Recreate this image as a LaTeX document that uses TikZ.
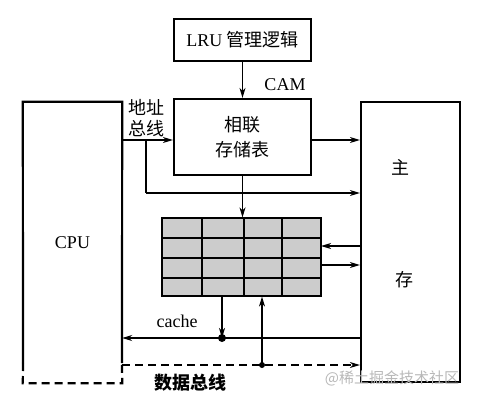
\documentclass[tikz,border=0pt]{standalone}
\usepackage{fontspec}
\setmainfont{Liberation Serif}
\newfontfamily\cjk{Noto Sans CJK SC}
\usetikzlibrary{arrows.meta, positioning, calc}
\definecolor{cellGray}{HTML}{CCCCCC}
\definecolor{markGray}{HTML}{B8B8B8}

\tikzset{
    unitbox/.style={draw, line width=2.2pt, inner sep=0pt},
    arr/.style={line width=1.2pt, -{Stealth[length=10pt, width=6pt, inset=3pt]}},
    lbl/.style={font=\fontsize{18}{21}\selectfont, inner sep=0pt},
    longdash/.style={dash pattern=on 8pt off 5pt},
    busdot/.style={fill, circle, inner sep=0pt, minimum size=8pt}
}

\begin{document}
\begin{tikzpicture}[x=1pt, y=-1pt]
    \useasboundingbox (0,0) rectangle (484,401);

    % boxes
    \node[unitbox, minimum width=137pt, minimum height=42pt, lbl] (lru) at (242.5,40) {LRU {\cjk 管理逻辑}};
    \node[unitbox, minimum width=137pt, minimum height=76pt, lbl, align=center] (cam) at (242.5,137) {\cjk 相联\\[4pt]\cjk 存储表};
    \node[minimum width=99pt, minimum height=281pt, inner sep=0pt] (cpu) at (72.5,242.5) {};
    \node[unitbox, minimum width=99pt, minimum height=280pt] (mem) at (410.5,242) {};

    % cpu outline, broken at the bottom
    \draw[line width=2.2pt] (23,363) -- (cpu.north west) -- (cpu.north east) -- (122,363);
    \draw[line width=2.2pt, longdash] (23,363) -- (cpu.south west) -- (cpu.south east) -- (122,363);

    % cache array
    \node[draw, line width=1.2pt, fill=cellGray, minimum width=159pt, minimum height=78pt, inner sep=0pt] (cache) at (241.5,257) {};
    \foreach \cx in {202,244,282}
        \draw[line width=1.2pt] (\cx,218) -- (\cx,296);
    \foreach \cy in {238,258,278}
        \draw[line width=1.2pt] (162,\cy) -- (321,\cy);

    % labels
    \node[lbl] (cpulbl) at (cpu) {CPU};
    \node[lbl] (camlbl) at (285,85) {CAM};
    \node[lbl, align=left] (addrlbl) at (146,118) {\cjk 地址\\\cjk 总线};
    \node[lbl] (cachelbl) at (177,321) {cache};
    \node[lbl, font=\fontsize{18}{21}\selectfont\cjk\bfseries] (datalbl) at (190,383) {数据总线};
    \node[lbl, font=\fontsize{18}{21}\selectfont\cjk] (zhu) at (400,167) {主};
    \node[lbl, font=\fontsize{18}{21}\selectfont\cjk] (cun) at (404,280) {存};
    \node[lbl, font=\fontsize{15}{18}\selectfont\cjk, text=markGray] (mark) at (392,378) {@稀土掘金技术社区};

    % address bus
    \coordinate (addr) at (122,140);
    \coordinate (br) at (146,140);
    \coordinate (low) at (146,193);
    \draw[arr] (addr) -- (addr -| cam.west);
    \draw[line width=1.2pt] (br) -- (low);
    \draw[arr] (low) -- (low -| mem.west);
    \draw[arr] (cam.east |- addr) -- (mem.west |- addr);
    \draw[arr] (lru.south) -- (cam.north);
    \draw[arr] (cam.south) -- (cam.south |- cache.north);

    % cache <-> memory
    \coordinate (cin) at (321,246);
    \coordinate (cout) at (321,265);
    \draw[arr] (cin -| mem.west) -- (cin);
    \draw[arr] (cout) -- (cout -| mem.west);

    % data paths
    \coordinate (tap) at (222,338);
    \coordinate (sw) at (262,365);
    \draw[arr] (mem.west |- tap) -- (cpu.east |- tap);
    \draw[arr] (cache.south -| tap) -- (tap);
    \node[busdot] (tapdot) at (tap) {};
    \draw[arr, longdash] (cpu.east |- sw) -- (mem.west |- sw);
    \draw[arr] (sw) -- (sw |- cache.south);
    \node[busdot, minimum size=6pt] (swdot) at (sw) {};
\end{tikzpicture}
\end{document}
